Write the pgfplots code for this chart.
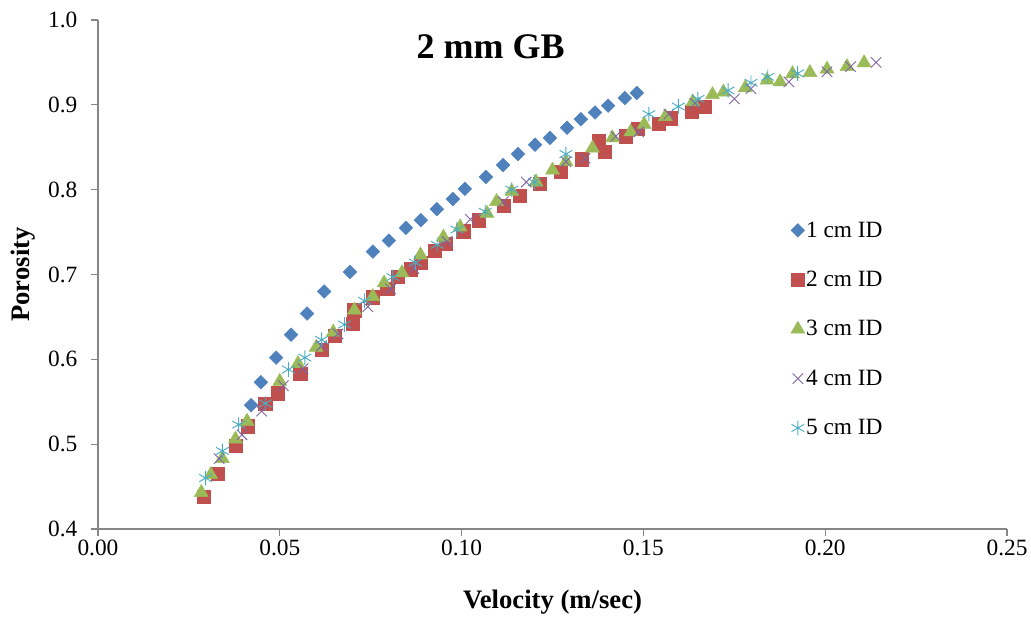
\documentclass[border=0pt]{standalone}
\usepackage{pgfplots}
\pgfplotsset{compat=1.18}
\usepackage{fontspec}
\setmainfont{Liberation Serif}
\definecolor{c1}{HTML}{4F81BD}
\definecolor{c2}{HTML}{C0504D}
\definecolor{c3}{HTML}{9BBB59}
\definecolor{c4}{HTML}{8064A2}
\definecolor{c5}{HTML}{4BACC6}
\definecolor{axgray}{HTML}{868686}
\begin{document}
\begin{tikzpicture}
\begin{axis}[
  scale only axis, width=681.75pt, height=381.75pt,
  xmin=0, xmax=0.25, ymin=0.4, ymax=1.0,
  axis x line=bottom, axis y line=left,
  axis line style={draw=axgray, line width=0.9pt, -},
  xtick={0,0.05,...,0.25}, ytick={0.4,0.5,...,1.0},
  tick style={draw=axgray, line width=0.9pt},
  tick align=outside, major tick length=5pt,
  x tick label style={/pgf/number format/.cd, fixed, fixed zerofill, precision=2},
  y tick label style={xshift=-7pt, /pgf/number format/.cd, fixed, fixed zerofill, precision=1},
  /pgf/number format/assume math mode=true,
  tick label style={font=\fontsize{17.5}{19}\selectfont},
  xlabel={\textbf{Velocity (m/sec)}},
  ylabel={\textbf{Porosity}},
  every axis x label/.style={at={(axis description cs:0.5,-0.143)}, anchor=center, font=\fontsize{20}{22}\selectfont},
  every axis y label/.style={at={(axis description cs:-0.0825,0.5)}, rotate=90, anchor=center, font=\fontsize{20}{22}\selectfont},
  legend style={draw=none, fill=none, at={(0.762,0.607)}, anchor=north west,
    font=\fontsize{17.5}{19}\selectfont, row sep=22pt, inner sep=0pt,
    nodes={inner sep=1pt}},
  legend cell align=left,
  clip=false,
]
\addplot[only marks, mark=square*, mark size=3.6pt, color=c1, mark options={rotate=45, draw=c1, fill=c1}] coordinates {
(0.0421,0.546)(0.0448,0.573)(0.0490,0.602)(0.0531,0.629)(0.0575,0.654)(0.0622,0.680)
(0.0693,0.703)(0.0756,0.727)(0.0800,0.740)(0.0847,0.755)(0.0888,0.764)(0.0932,0.777)
(0.0976,0.789)(0.1009,0.801)(0.1067,0.815)(0.1114,0.829)(0.1155,0.842)(0.1202,0.853)
(0.1243,0.861)(0.1290,0.873)(0.1328,0.883)(0.1367,0.891)(0.1403,0.899)(0.1449,0.908)
(0.1482,0.914)};
\addlegendentry{1 cm ID}
\addplot[only marks, mark=square*, mark size=5pt, color=c2, mark options={draw=c2, fill=c2}] coordinates {
(0.0291,0.438)(0.0329,0.465)(0.0378,0.498)(0.0411,0.521)(0.046,0.548)(0.0495,0.560)
(0.0556,0.583)(0.0615,0.611)(0.0651,0.628)(0.070,0.642)(0.0705,0.658)(0.0756,0.673)
(0.0796,0.683)(0.0824,0.697)(0.086,0.706)(0.0887,0.714)(0.0927,0.728)(0.0956,0.736)
(0.1005,0.751)(0.1047,0.764)(0.1116,0.781)(0.116,0.793)(0.1215,0.807)(0.1273,0.821)
(0.1331,0.836)(0.1378,0.857)(0.1393,0.845)(0.1451,0.863)(0.1484,0.872)(0.1542,0.878)
(0.1575,0.884)(0.1633,0.892)(0.1669,0.898)};
\addlegendentry{2 cm ID}
\addplot[only marks, mark=triangle*, mark size=6pt, color=c3, mark options={draw=c3, fill=c3}] coordinates {
(0.0284,0.443)(0.031,0.464)(0.0342,0.483)(0.0378,0.506)(0.041,0.527)(0.050,0.574)
(0.055,0.595)(0.060,0.614)(0.0647,0.632)(0.0705,0.658)(0.0756,0.674)(0.0787,0.690)
(0.0836,0.702)(0.0887,0.723)(0.095,0.744)(0.0996,0.756)(0.107,0.772)(0.1096,0.786)
(0.1138,0.798)(0.1205,0.809)(0.125,0.823)(0.1287,0.833)(0.136,0.849)(0.1415,0.861)
(0.1465,0.868)(0.1502,0.877)(0.156,0.886)(0.1636,0.9035)(0.169,0.912)(0.172,0.915)
(0.178,0.920)(0.184,0.929)(0.1876,0.927)(0.191,0.9366)(0.1958,0.938)(0.2005,0.942)
(0.206,0.945)(0.2107,0.9495)};
\addlegendentry{3 cm ID}
\addplot[only marks, mark=x, mark size=5.5pt, color=c4, mark options={draw=c4, line width=0.7pt}] coordinates {
(0.0333,0.483)(0.0396,0.511)(0.045,0.539)(0.051,0.569)(0.0564,0.589)(0.0615,0.616)
(0.066,0.630)(0.0742,0.662)(0.0805,0.683)(0.0869,0.707)(0.096,0.739)(0.1024,0.765)
(0.1115,0.786)(0.1178,0.809)(0.1287,0.833)(0.134,0.837)(0.1424,0.863)(0.1487,0.868)
(0.157,0.889)(0.1642,0.902)(0.175,0.907)(0.1796,0.919)(0.190,0.927)(0.2005,0.939)
(0.207,0.945)(0.214,0.950)};
\addlegendentry{4 cm ID}
\addplot[only marks, mark=asterisk, mark size=5.5pt, color=c5, mark options={draw=c5, line width=0.7pt}] coordinates {
(0.0296,0.460)(0.0342,0.492)(0.0387,0.523)(0.046,0.548)(0.0524,0.588)(0.0569,0.602)
(0.0615,0.623)(0.0678,0.641)(0.0733,0.669)(0.0811,0.697)(0.0873,0.714)(0.0933,0.735)
(0.0987,0.753)(0.1065,0.774)(0.1138,0.800)(0.120,0.809)(0.1287,0.842)(0.1515,0.889)
(0.1596,0.898)(0.165,0.907)(0.1733,0.917)(0.1796,0.926)(0.1842,0.933)(0.1924,0.937)};
\addlegendentry{5 cm ID}
\node[font=\fontsize{27}{29}\selectfont\bfseries] at (axis cs:0.108,0.968) {2 mm GB};
\coordinate (LL) at (rel axis cs:0,0);
\coordinate (UR) at (rel axis cs:1,1);
\end{axis}
\pgfresetboundingbox
\path ([shift={(-73.5pt,-66pt)}]LL) rectangle ([shift={(18pt,15pt)}]UR);
\end{tikzpicture}
\end{document}
